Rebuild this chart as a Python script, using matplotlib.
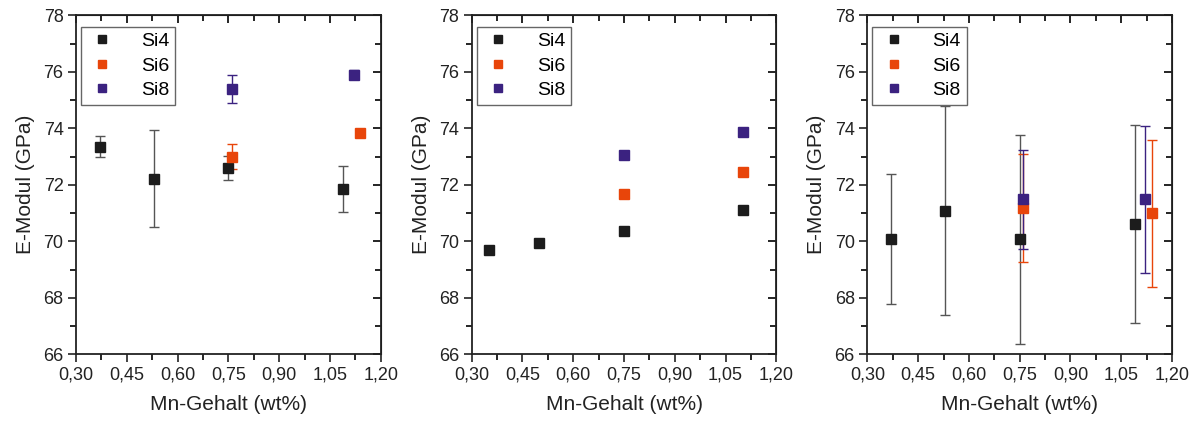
import matplotlib
matplotlib.use("Agg")
import matplotlib.pyplot as plt

plt.rcParams['font.family'] = ['Liberation Sans', 'DejaVu Sans']

# --------------------
# Data
# --------------------
labels = ['Si4', 'Si6', 'Si8']
colors = ['#1c1c1c', '#e8450a', '#3b2280']
err_colors = ['#555555', '#e8450a', '#3b2280']

# panel 1
p1_x = [[0.37, 0.53, 0.75, 1.09], [0.76, 1.14], [0.76, 1.12]]
p1_y = [[73.35, 72.22, 72.6, 71.85], [73.0, 73.83], [75.4, 75.9]]
p1_err = [[0.37, 1.72, 0.43, 0.8], [0.45, 0.0], [0.5, 0.15]]

# panel 2 (no error bars)
p2_x = [[0.35, 0.50, 0.75, 1.10], [0.75, 1.10], [0.75, 1.10]]
p2_y = [[69.7, 69.93, 70.38, 71.1], [71.68, 72.45], [73.06, 73.86]]
p2_err = [None, None, None]

# panel 3
p3_x = [[0.37, 0.53, 0.75, 1.09], [0.76, 1.14], [0.76, 1.12]]
p3_y = [[70.08, 71.08, 70.08, 70.6], [71.18, 71.0], [71.48, 71.48]]
p3_err = [[2.3, 3.7, 3.7, 3.5], [1.9, 2.6], [1.75, 2.6]]

xticks = [0.30, 0.45, 0.60, 0.75, 0.90, 1.05, 1.20]
yticks = [66, 68, 70, 72, 74, 76, 78]

panels = [(p1_x, p1_y, p1_err), (p2_x, p2_y, p2_err), (p3_x, p3_y, p3_err)]
lefts = [0.0634, 0.3934, 0.7234]

fig = plt.figure(figsize=(11.99, 4.23), dpi=100)

for left, (xs, ys, errs) in zip(lefts, panels):
    ax = fig.add_axes([left, 0.1624, 0.2541, 0.8014])
    for i in range(3):
        if errs[i] is not None:
            ax.errorbar(xs[i], ys[i], yerr=errs[i], fmt='none', ecolor=err_colors[i],
                        elinewidth=1.0, capsize=3.5, capthick=1.0, zorder=2)
        ax.plot(xs[i], ys[i], 's', color=colors[i], markersize=6.5, label=labels[i],
                linestyle='none', zorder=3)

    ax.set_xlim(0.30, 1.20)
    ax.set_ylim(66, 78)
    ax.set_xticks(xticks)
    ax.set_xticklabels([f"{t:.2f}".replace('.', ',') for t in xticks])
    ax.set_yticks(yticks)
    ax.set_xticks([0.375, 0.525, 0.675, 0.825, 0.975, 1.125], minor=True)
    ax.set_yticks([67, 69, 71, 73, 75, 77], minor=True)
    ax.tick_params(axis='both', which='major', direction='out', length=6, width=1.2,
                   labelsize=13, colors='#222222', pad=3)
    ax.tick_params(axis='both', which='minor', direction='out', length=4, width=1.2)
    for s in ax.spines.values():
        s.set_linewidth(1.3)
        s.set_color('#222222')

    # inward ticks on top and right
    top = ax.secondary_xaxis('top')
    top.set_xticks(xticks)
    top.set_xticks([0.375, 0.525, 0.675, 0.825, 0.975, 1.125], minor=True)
    top.tick_params(which='major', direction='in', length=6, width=1.2, labeltop=False)
    top.tick_params(which='minor', direction='in', length=4, width=1.2)
    right = ax.secondary_yaxis('right')
    right.set_yticks(yticks)
    right.set_yticks([67, 69, 71, 73, 75, 77], minor=True)
    right.tick_params(which='major', direction='in', length=6, width=1.2, labelright=False)
    right.tick_params(which='minor', direction='in', length=4, width=1.2)

    ax.set_xlabel('Mn-Gehalt (wt%)', fontsize=15, color='#222222', labelpad=8)
    ax.set_ylabel('E-Modul (GPa)', fontsize=15, color='#222222', labelpad=6)

    leg = ax.legend(loc='upper left', bbox_to_anchor=(0.016, 0.966), borderaxespad=0,
                    fancybox=False, edgecolor='#666666', fontsize=14, markerscale=0.85,
                    handletextpad=1.2, handlelength=1.6, borderpad=0.3, labelspacing=0.35,
                    framealpha=1)
    leg.get_frame().set_linewidth(1.0)

fig.savefig('out.png', dpi=100)
